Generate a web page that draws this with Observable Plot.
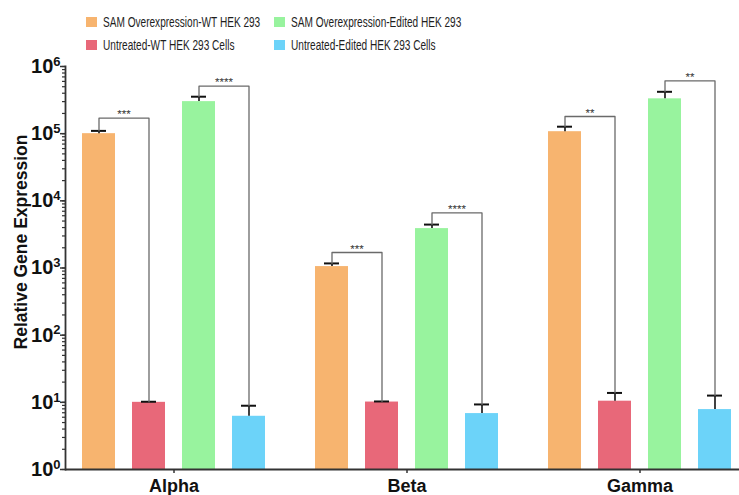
<!DOCTYPE html>
<html>
<head>
<meta charset="utf-8">
<script src="https://cdn.jsdelivr.net/npm/d3@7"></script>
<script src="https://cdn.jsdelivr.net/npm/@observablehq/plot@0.6"></script>
<style>
  html, body { margin: 0; padding: 0; background: #fff; }
  #chart { width: 739px; }
  .legend {
    height: 55px; box-sizing: border-box; padding: 10px 0 0 86px;
    display: grid; grid-template-columns: 188px auto; grid-auto-rows: 23.5px;
    font-family: "Liberation Sans", Arial, sans-serif;
    font-size: 14px; color: #1e1e1e;
  }
  .legend .item { display: flex; align-items: center; white-space: nowrap; }
  .legend .swatch { width: 11px; height: 10px; margin-right: 6px; flex: none; }
  .legend .label { display: inline-block; transform: scaleX(0.72); transform-origin: left center; }
</style>
</head>
<body>
<div id="chart"></div>
<script>
// Genes on the x axis and the four treatment groups
const genes = ["Alpha", "Beta", "Gamma"];
const series = [
  "SAM Overexpression-WT HEK 293",
  "Untreated-WT HEK 293 Cells",
  "SAM Overexpression-Edited HEK 293",
  "Untreated-Edited HEK 293 Cells"
];
const colors = ["#F7B46F", "#E86879", "#98F39E", "#6CD3F9"];

// Mean relative expression per gene (Alpha, Beta, Gamma)
const samWT = [1.0e5, 1050, 1.07e5];
const untreatedWT = [10, 10.1, 10.4];
const samEdited = [3.0e5, 3860, 3.3e5];
const untreatedEdited = [6.2, 6.8, 7.8];

// Upper end of each error bar (mean + SD)
const samWTUpper = [1.1e5, 1170, 1.27e5];
const untreatedWTUpper = [10.2, 10.3, 13.8];
const samEditedUpper = [3.55e5, 4430, 4.2e5];
const untreatedEditedUpper = [8.9, 9.3, 12.6];

// Significance brackets: WT pair and Edited pair
const wtBracket = [1.7e5, 1700, 1.8e5];
const wtStars = ["***", "***", "**"];
const editedBracket = [5.1e5, 6600, 6.1e5];
const editedStars = ["****", "****", "**"];

// Y axis ticks (powers of ten)
const yTicks = [1, 10, 100, 1e3, 1e4, 1e5, 1e6];
const yTitle = "Relative Gene Expression";

const means = [samWT, untreatedWT, samEdited, untreatedEdited];
const uppers = [samWTUpper, untreatedWTUpper, samEditedUpper, untreatedEditedUpper];

const bars = genes.flatMap((g, i) => series.map((s, j) => ({
  gene: g, series: s, value: means[j][i], upper: uppers[j][i]
})));

const comparisons = [
  {pair: [0, 1], heights: wtBracket, stars: wtStars},
  {pair: [2, 3], heights: editedBracket, stars: editedStars}
];
const bracketPaths = [];
const bracketLabels = [];
genes.forEach((g, i) => comparisons.forEach((c, k) => {
  const [a, b] = c.pair;
  const id = g + k, h = c.heights[i];
  bracketPaths.push(
    {id, gene: g, series: series[a], y: uppers[a][i]},
    {id, gene: g, series: series[a], y: h},
    {id, gene: g, series: series[b], y: h},
    {id, gene: g, series: series[b], y: uppers[b][i]}
  );
  bracketLabels.push({gene: g, series: series[a], y: h, label: c.stars[i]});
}));

const minorTicks = d3.scaleLog().domain([1, 1e6]).ticks();

// Legend (two columns, two rows)
const legend = document.createElement("div");
legend.className = "legend";
[0, 2, 1, 3].forEach(j => {
  const item = document.createElement("div");
  item.className = "item";
  const sw = document.createElement("span");
  sw.className = "swatch";
  sw.style.background = colors[j];
  const label = document.createElement("span");
  label.className = "label";
  label.textContent = series[j];
  item.append(sw, label);
  legend.append(item);
});

const chart = Plot.plot({
  width: 739,
  height: 440,
  marginTop: 11,
  marginBottom: 26,
  marginLeft: 65,
  marginRight: 0,
  style: {fontFamily: "'Liberation Sans', Arial, sans-serif", background: "#fff", overflow: "visible"},
  fx: {domain: genes, paddingInner: 0.1073, paddingOuter: 0, axis: null},
  x: {domain: series, paddingInner: 0.34, paddingOuter: 0.25, align: 0.68, axis: null},
  y: {type: "log", domain: [1, 1e6], axis: null},
  color: {domain: series, range: colors},
  marks: [
    Plot.barY(bars, {fx: "gene", x: "series", y1: 1, y2: "value", fill: "series"}),
    // error bars
    Plot.ruleX(bars, {fx: "gene", x: "series", y1: "value", y2: "upper", stroke: "#111", strokeWidth: 1.6}),
    Plot.tickY(bars, {fx: "gene", x: "series", y: "upper", stroke: "#111", strokeWidth: 2, insetLeft: 9, insetRight: 9}),
    // significance brackets
    Plot.line(bracketPaths, {fx: "gene", x: "series", y: "y", z: "id", stroke: "#6a6a6a", strokeWidth: 1.3}),
    Plot.text(bracketLabels, {fx: "gene", x: "series", y: "y", text: "label", dx: 25, dy: 0, lineAnchor: "bottom", fontSize: 11.5, fill: "#333"}),
    // axes
    Plot.ruleY([1], {stroke: "#333", strokeWidth: 1.8, insetRight: -25}),
    Plot.frame({anchor: "left", fx: ["Alpha"], stroke: "#333", strokeWidth: 1.8}),
    Plot.axisY({ticks: minorTicks, tickSize: 3, tickFormat: () => "", stroke: "#333", strokeWidth: 1.2, label: null}),
    Plot.axisY({ticks: yTicks, tickSize: 5, tickPadding: 0, tickFormat: d => "10^" + Math.round(Math.log10(d)),
      fontSize: 20, fontWeight: "bold", fill: "#111", stroke: "#333", strokeWidth: 1.5, label: null}),
    Plot.axisFx({anchor: "bottom", tickSize: 4, tickPadding: 6, dx: 4.5, fontSize: 18, fontWeight: "bold", fill: "#111", stroke: "#333", strokeWidth: 1.5, label: null}),
    Plot.text([yTitle], {fx: ["Alpha"], frameAnchor: "left", textAnchor: "middle", rotate: -90, dx: -44, dy: -26, fontSize: 17.5, fontWeight: "bold", fill: "#111"})
  ]
});

// Render "10^n" tick labels as 10 with a raised exponent
d3.select(chart).selectAll("text").each(function() {
  const m = /^10\^(\d+)$/.exec(this.textContent);
  if (!m) return;
  const t = d3.select(this).attr("text-anchor", "end");
  t.text("10");
  t.append("tspan").attr("font-size", 13).attr("dy", "-0.55em").text(m[1]);
});

const root = document.getElementById("chart");
root.append(legend, chart);
</script>
</body>
</html>
